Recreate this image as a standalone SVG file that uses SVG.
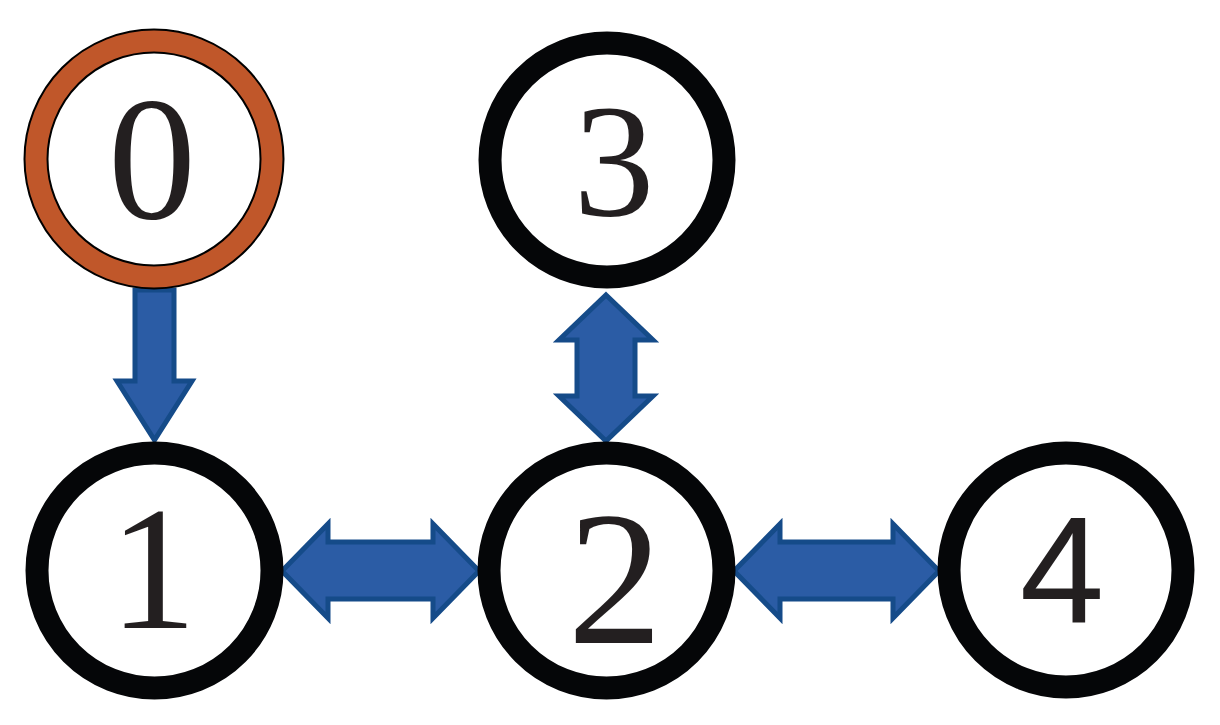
<svg xmlns="http://www.w3.org/2000/svg" width="1220" height="725" viewBox="0 0 1220 725">
<style>
.ring{fill:#fff;stroke:#050608;stroke-width:23}
.arr{fill:#2b5ca5;stroke:#154b89;stroke-width:5;stroke-linejoin:miter}
.serif{font-family:'Liberation Serif','Times New Roman',serif;fill:#231f20;text-anchor:middle}
.sans{font-family:'Liberation Sans','DejaVu Sans',Arial,sans-serif;fill:#231f20;text-anchor:middle}
</style>
<rect width="1220" height="725" fill="#fff"/>
<g id="connectors">
<polygon class="arr" points="135,290 174,290 174,381 192,381 154.5,440 117,381 135,381"/>
<polygon class="arr" points="282,571 328,524 328,542 433,542 433,524 479,571 433,618 433,599 328,599 328,618"/>
<polygon class="arr" points="734,571 780,524 780,542 893,542 893,524 939,571 893,618 893,599 780,599 780,618"/>
<polygon class="arr" points="606,295 653,340 635,340 635,396 653,396 606,441 559,396 577,396 577,340 559,340"/>
</g>
<g id="node0">
<circle cx="154" cy="159" r="118" fill="#fff" stroke="#000" stroke-width="25"/>
<circle cx="154" cy="159" r="118" fill="none" stroke="#c0572a" stroke-width="21"/>
<text class="serif" x="152" y="218" font-size="176">0</text>
</g>
<g id="node3">
<circle class="ring" cx="607" cy="160" r="117"/>
<text class="serif" x="614" y="215" font-size="162">3</text>
</g>
<g id="node1">
<circle class="ring" cx="154.5" cy="570.5" r="117.5"/>
<text class="serif" x="153" y="628" font-size="175">1</text>
</g>
<g id="node2">
<circle class="ring" cx="606.5" cy="570.5" r="117.5"/>
<text class="serif" x="615" y="643" font-size="190">2</text>
</g>
<g id="node4">
<circle class="ring" cx="1066" cy="570" r="117"/>
<text class="sans" x="1062" y="623" font-size="152">4</text>
</g>
</svg>
